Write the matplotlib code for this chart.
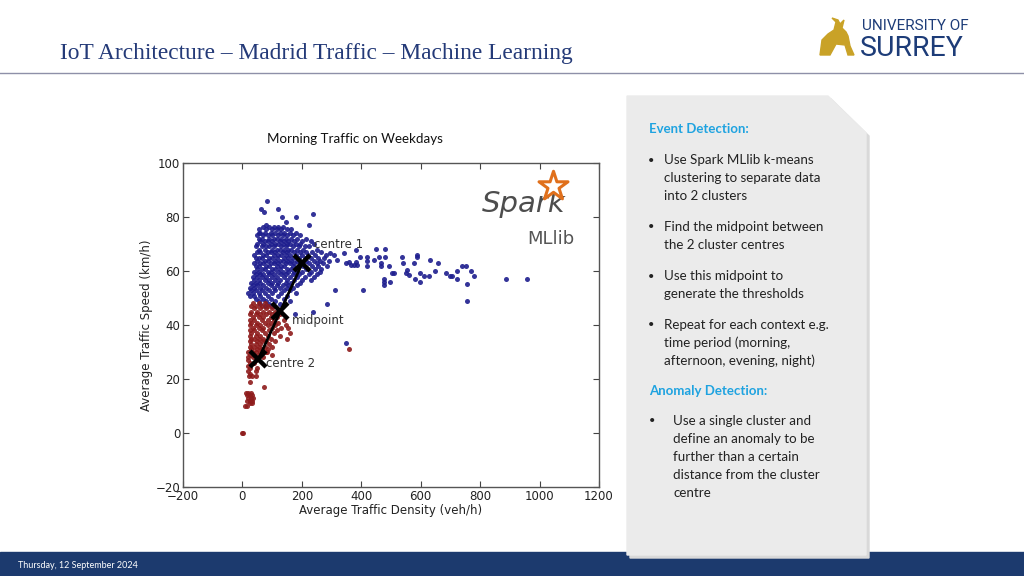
import numpy as np
import matplotlib
matplotlib.use("Agg")
import matplotlib.pyplot as plt
from matplotlib.patches import Polygon, Rectangle

W, H = 1024, 576

# ---- data (density veh/h, speed km/h) ----
# dense blue core, by rows: (speed, [densities])
blue_rows = [
    (86, [83]), (83, [61, 119]), (82, [74]), (81, [238]), (80, [134, 179]),
    (78, [148]), (77, [81, 223]),
    (76.2, [70, 90, 105, 120, 135]),
    (75.4, [55, 80, 100, 115, 130, 150, 165]),
    (74.1, [55, 60, 75, 95, 110, 125, 140, 160, 180]),
    (73.3, [50, 70, 85, 100, 120, 135, 150, 170, 195]),
    (72.0, [55, 65, 90, 105, 115, 130, 145, 165, 185, 215]),
    (71.2, [60, 75, 85, 100, 125, 140, 155, 175, 200, 230]),
    (69.9, [50, 70, 95, 110, 120, 135, 150, 160, 180, 195, 240]),
    (69.1, [45, 65, 80, 90, 105, 130, 145, 170, 190, 210, 225]),
    (67.8, [55, 75, 100, 115, 125, 140, 155, 165, 185, 205, 250]),
    (67.0, [50, 60, 85, 95, 110, 135, 150, 175, 195, 215, 235, 265]),
    (65.8, [40, 70, 80, 105, 120, 130, 145, 160, 180, 200, 220, 245, 280]),
    (65.0, [45, 55, 65, 90, 100, 115, 140, 155, 170, 190, 210, 230, 255, 275]),
    (63.7, [50, 75, 85, 110, 125, 135, 150, 165, 185, 215, 240, 260, 290]),
    (62.9, [40, 60, 70, 95, 105, 120, 145, 160, 175, 195, 225, 250, 270]),
    (61.8, [45, 55, 80, 90, 115, 130, 140, 170, 190, 205, 235, 255, 285]),
    (60.9, [50, 65, 75, 100, 110, 125, 150, 165, 180, 215, 245, 265]),
    (59.7, [40, 55, 85, 95, 120, 135, 155, 175, 200, 230, 260]),
    (58.8, [45, 60, 70, 90, 105, 130, 145, 170, 190, 225, 250]),
    (57.6, [35, 50, 65, 80, 100, 115, 140, 160, 185, 210, 240]),
    (56.8, [40, 55, 75, 90, 110, 125, 150, 175, 200, 230]),
    (55.7, [30, 45, 60, 85, 100, 120, 145, 165, 195]),
    (54.8, [35, 50, 70, 95, 115, 135, 155, 185]),
    (53.7, [25, 40, 60, 80, 105, 125, 150, 170]),
    (52.9, [30, 45, 65, 90, 110, 140, 160, 313]),
    (51.8, [20, 35, 55, 75, 100, 130, 180]),
    (50.9, [25, 40, 60, 85, 120, 150]),
    (49.8, [45, 70, 95, 140]),
    (48.9, [55, 80, 110, 160]),
    (47.9, [60, 90, 125, 285]),
    (47.0, [75, 100]),
    (45, [238]), (44, [178]),
    (33.3, [347]),
]
# sparse blue tail to the right
tail_x = [296, 308, 319, 341, 347, 358, 364, 375, 381, 381, 386, 395, 406,
          418, 418, 418, 442, 448, 459, 465, 465, 479, 479, 493, 498, 504,
          510, 478, 478, 478, 538, 541, 549, 554, 560, 577, 586, 586, 582,
          597, 599, 611, 631, 627, 648, 659, 684, 700, 706, 721, 721, 740,
          751, 756, 756, 768, 779, 888, 958]
tail_y = [66.6, 66.0, 64.1, 66.8, 62.9, 63.5, 62.2, 62.2, 67.8, 63.5, 62.2,
          65.1, 53.0, 65.1, 63.8, 62.0, 64.1, 68.0, 65.1, 62.9, 62.0, 68.0,
          65.1, 62.0, 56.1, 59.2, 59.2, 56.9, 55.8, 54.8, 65.3, 62.9, 59.2,
          60.4, 58.5, 62.9, 66.0, 65.1, 56.9, 56.1, 59.2, 58.2, 64.1, 58.2,
          60.0, 62.9, 59.2, 58.2, 58.2, 60.0, 56.9, 62.0, 62.0, 55.1, 49.0,
          60.0, 58.2, 57.0, 57.0]

red_rows = [
    (48.2, [35, 55, 75]),
    (47.1, [30, 45, 65, 85]),
    (46.2, [40, 60, 80, 100]),
    (45.0, [30, 50, 70, 90, 110]),
    (44.1, [25, 45, 60, 80, 100, 125]),
    (42.9, [35, 55, 70, 95, 115]),
    (42.0, [25, 40, 65, 85, 105, 140]),
    (40.9, [30, 50, 75, 95, 120]),
    (40.0, [25, 45, 60, 85, 110, 145]),
    (38.8, [35, 55, 70, 100, 130, 155]),
    (38.0, [25, 40, 65, 90, 115]),
    (36.9, [30, 50, 75, 105, 160]),
    (36.0, [25, 45, 60, 85, 125]),
    (34.9, [30, 40, 55, 70, 95, 150]),
    (34.0, [25, 50, 65, 80, 110]),
    (32.9, [30, 45, 60, 90]),
    (32.0, [25, 40, 55, 75, 100]),
    (31.0, [30, 50, 65, 85, 360]),
    (30.0, [20, 35, 45, 60, 80, 83]),
    (29, [25, 40, 55, 100]),
    (28, [20, 35, 70]),
    (27, [20, 45]),
    (26, [25, 40]),
    (25, [20]),
    (24, [25, 50]),
    (23, [20, 44]),
    (22, [25]),
    (21, [21, 33, 47]),
    (19, [24]),
    (17, [72]),
    (15, [12, 20, 28]),
    (14, [16, 24, 32]),
    (13, [20, 28, 36]),
    (12, [16, 25, 33]),
    (11, [25, 33]),
    (10, [10, 17]),
    (0, [0, 1]),
]

centre1 = (202, 63.0)
centre2 = (54, 27.4)
midpoint = (128, 45.2)

x_ticks = [-200, 0, 200, 400, 600, 800, 1000, 1200]
y_ticks = [-20, 0, 20, 40, 60, 80, 100]

event_bullets = [
    ["Use Spark MLlib k-means", "clustering to separate data", "into 2 clusters"],
    ["Find the midpoint between", "the 2 cluster centres"],
    ["Use this midpoint to", "generate the thresholds"],
    ["Repeat for each context e.g.", "time period (morning,", "afternoon, evening, night)"],
]
anomaly_lines = ["Use a single cluster and", "define an anomaly to be",
                 "further than a certain", "distance from the cluster", "centre"]


def expand(rows):
    xs, ys = [], []
    for y, row in rows:
        xs += row
        ys += [y] * len(row)
    return np.array(xs, float), np.array(ys, float)


bx, by = expand(blue_rows)
bx = np.concatenate([bx, tail_x])
by = np.concatenate([by, tail_y])
rx, ry = expand(red_rows)

NAVY = "#243a78"
SANS = ["Lato", "DejaVu Sans"]

fig = plt.figure(figsize=(W / 100, H / 100), dpi=100)
fig.patch.set_facecolor("white")


def px(x, y):
    return x / W, 1 - y / H


# ---- slide header ----
fig.text(*px(60, 53), "IoT Architecture \u2013 Madrid Traffic \u2013 Machine Learning",
         family="Liberation Serif", fontsize=16.8, color=NAVY, va="center")
fig.add_artist(plt.Line2D([0, 1], [1 - 73 / H] * 2, color="#8e90a8", lw=1.0))
fig.text(*px(862, 30), "UNIVERSITY OF", family="Roboto",
         fontsize=11, color="#1d3c78", va="baseline")
fig.text(*px(860, 56), "SURREY", family="Roboto",
         fontsize=20.5, color="#1d3c78", va="baseline")
# crude gold stag
stag = [(820, 55), (822, 40), (828, 34), (834, 30), (836, 22), (832, 18), (838, 20),
        (840, 24), (844, 20), (842, 28), (846, 32), (848, 36), (850, 46), (854, 55),
        (848, 55), (845, 45), (836, 44), (830, 55)]
fig.add_artist(Polygon([px(*p) for p in stag], closed=True, color="#c9a227",
                       transform=fig.transFigure))

# ---- footer ----
fig.add_artist(Rectangle(px(0, 576), 1, 24 / H, color="#1c3a6e",
                         transform=fig.transFigure))
fig.text(*px(18, 565), "Thursday, 12 September 2024", family=SANS,
         fontsize=6.5, color="white", va="center")

# ---- right panel with folded corner ----
shadow = [(630, 99), (831, 99), (869, 136), (869, 558), (630, 558)]
fig.add_artist(Polygon([px(*p) for p in shadow], closed=True, color="#d9d9d9",
                       transform=fig.transFigure))
panel = [(627, 96), (828, 96), (866, 133), (866, 555), (627, 555)]
fig.add_artist(Polygon([px(*p) for p in panel], closed=True, color="#ebebeb",
                       transform=fig.transFigure))

CYAN = "#1fa3e0"
fig.text(*px(649, 129), "Event Detection:", family=SANS, fontsize=9.5,
         weight="bold", color=CYAN, va="center")
y = 160
for bullet in event_bullets:
    fig.text(*px(648, y), "\u2022", family=SANS, fontsize=8, color="#222", va="center")
    for line in bullet:
        fig.text(*px(664, y), line, family=SANS, fontsize=9.6, color="#222", va="center")
        y += 18
    y += 13
fig.text(*px(649, 391), "Anomaly Detection:", family=SANS, fontsize=9.5,
         weight="bold", color=CYAN, va="center")
y = 421
fig.text(*px(649, y), "\u2022", family=SANS, fontsize=8, color="#222", va="center")
for line in anomaly_lines:
    fig.text(*px(673, y), line, family=SANS, fontsize=9.6, color="#222", va="center")
    y += 18

# ---- scatter chart ----
ax = fig.add_axes([183 / W, 1 - 487 / H, 416 / W, 324 / H])
ax.scatter(bx, by, s=13, color="#1e1e8e", alpha=0.9, lw=0, zorder=2)
ax.scatter(rx, ry, s=13, color="#8e1c1c", alpha=0.9, lw=0, zorder=2)
ax.plot([centre2[0], centre1[0]], [centre2[1], centre1[1]], color="black", lw=2, zorder=3)
for c in (centre1, midpoint, centre2):
    ax.plot(*c, marker="x", ms=11, mew=3.2, color="black", zorder=4)
ax.text(centre1[0] + 40, centre1[1] + 7, "centre 1", fontsize=8.5, color="#333",
        va="center", zorder=5)
ax.text(midpoint[0] + 38, midpoint[1] - 3.5, "midpoint", fontsize=8.5, color="#333",
        va="center", zorder=5)
ax.text(centre2[0] + 25, centre2[1] - 1.5, "centre 2", fontsize=8.5, color="#333",
        va="center", zorder=5)

ax.set_xlim(-200, 1200)
ax.set_ylim(-20, 100)
ax.set_xticks(x_ticks)
ax.set_yticks(y_ticks)
ax.set_yticklabels([str(v).replace("-", "\u2212") for v in y_ticks])
ax.set_xticklabels([str(v).replace("-", "\u2212") for v in x_ticks])
ax.tick_params(direction="in", top=True, right=True, length=4, labelsize=8.5,
               color="#444", labelcolor="#222", pad=2)
for s in ax.spines.values():
    s.set_color("#555")
    s.set_linewidth(1.0)
ax.set_xlabel("Average Traffic Density (veh/h)", fontsize=8.5, color="#222", labelpad=1)
ax.set_ylabel("Average Traffic Speed (km/h)", fontsize=8.5, color="#222", labelpad=2)
fig.text(*px(355, 139), "Morning Traffic on Weekdays", family=SANS, fontsize=9.6,
         color="#111", ha="center", va="center")

# Spark MLlib logo
ax.text(0.82, 0.875, "Spark", transform=ax.transAxes, fontsize=21, style="italic",
        color="#4d4d4d", ha="center", va="center", family="DejaVu Sans")
ax.scatter([0.89], [0.93], transform=ax.transAxes, marker="*", s=480,
           facecolor="white", edgecolor="#e0701c", lw=2.2, zorder=5)
ax.text(0.885, 0.765, "MLlib", transform=ax.transAxes, fontsize=13,
        color="#555", ha="center", va="center", family="DejaVu Sans")

fig.savefig("out.png", dpi=100)
